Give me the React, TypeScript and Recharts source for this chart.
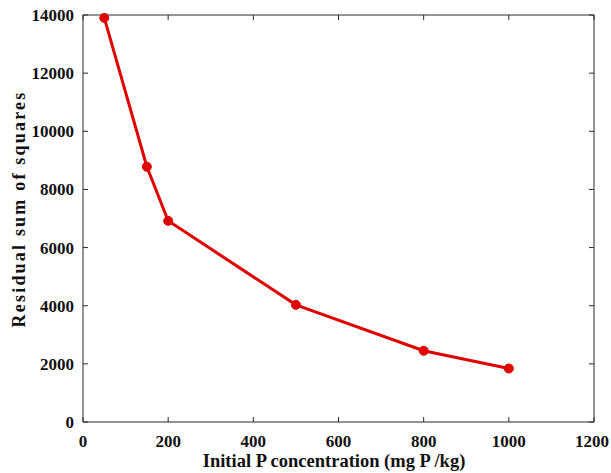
import { LineChart, Line, XAxis, YAxis } from 'recharts';

const concentration = [50, 150, 200, 500, 800, 1000];
const residualSS = [13900, 8780, 6920, 4030, 2450, 1840];
const xTicks = [0, 200, 400, 600, 800, 1000, 1200];
const yTicks = [0, 2000, 4000, 6000, 8000, 10000, 12000, 14000];

const data = concentration.map((x, i) => ({ x, y: residualSS[i] }));

const FONT = '"Liberation Serif", "Times New Roman", serif';
const AXIS = '#2a2a2a';
const TICK_FONT = 17;

const XTick = (props: any) => {
  // last label sits right at the window edge, nudge it in a touch
  const shift = props.payload.value === 1200 ? -2 : 0;
  return (
    <text
      x={props.x + shift}
      y={props.y}
      dy="0.71em"
      textAnchor="middle"
      style={{ fontFamily: FONT, fontSize: TICK_FONT, fontWeight: 700, fill: '#111' }}
    >
      {props.payload.value}
    </text>
  );
};

const YTick = (props: any) => (
  <text
    x={props.x}
    y={props.y}
    dy="0.35em"
    textAnchor="end"
    style={{ fontFamily: FONT, fontSize: TICK_FONT, fontWeight: 700, fill: '#111' }}
  >
    {props.payload.value}
  </text>
);

const NoTick = () => <g />;

export default function App() {
  return (
    <div style={{ position: 'absolute', left: 0, top: 0, width: 611, height: 473, background: '#fff' }}>
      <LineChart width={611} height={473} data={data} margin={{ top: 14, right: 16, bottom: 0, left: 0 }}>
        <XAxis
          dataKey="x"
          type="number"
          domain={[0, 1200]}
          ticks={xTicks}
          tickSize={-5}
          tickMargin={18}
          height={51}
          stroke={AXIS}
          tick={<XTick />}
        />
        <XAxis
          xAxisId="top"
          orientation="top"
          dataKey="x"
          type="number"
          domain={[0, 1200]}
          ticks={xTicks}
          tickSize={-5}
          height={1}
          stroke={AXIS}
          tick={<NoTick />}
        />
        <YAxis
          type="number"
          domain={[0, 14000]}
          ticks={yTicks}
          tickSize={-5}
          tickMargin={14}
          width={83}
          stroke={AXIS}
          tick={<YTick />}
        />
        <YAxis
          yAxisId="right"
          orientation="right"
          type="number"
          domain={[0, 14000]}
          ticks={yTicks}
          tickSize={-5}
          width={1}
          stroke={AXIS}
          tick={<NoTick />}
        />
        <Line
          xAxisId="top"
          yAxisId="right"
          type="linear"
          dataKey="y"
          stroke="none"
          dot={false}
          activeDot={false}
          legendType="none"
          isAnimationActive={false}
        />
        <Line
          type="linear"
          dataKey="y"
          stroke="#e00000"
          strokeWidth={3}
          dot={{ r: 4.5, fill: '#e00000', stroke: '#e00000', strokeWidth: 1 }}
          isAnimationActive={false}
        />
      </LineChart>
      <div
        style={{
          position: 'absolute',
          left: 334,
          top: 452,
          transform: 'translateX(-50%)',
          lineHeight: 1,
          fontFamily: FONT,
          fontSize: 18.5,
          fontWeight: 700,
          color: '#111',
          whiteSpace: 'nowrap',
        }}
      >
        Initial P concentration (mg P /kg)
      </div>
      <div
        style={{
          position: 'absolute',
          left: 19,
          top: 209,
          transform: 'translate(-50%, -50%) rotate(-90deg)',
          lineHeight: 1,
          fontFamily: FONT,
          fontSize: 18,
          letterSpacing: 2.2,
          fontWeight: 700,
          color: '#111',
          whiteSpace: 'nowrap',
        }}
      >
        Residual sum of squares
      </div>
    </div>
  );
}
